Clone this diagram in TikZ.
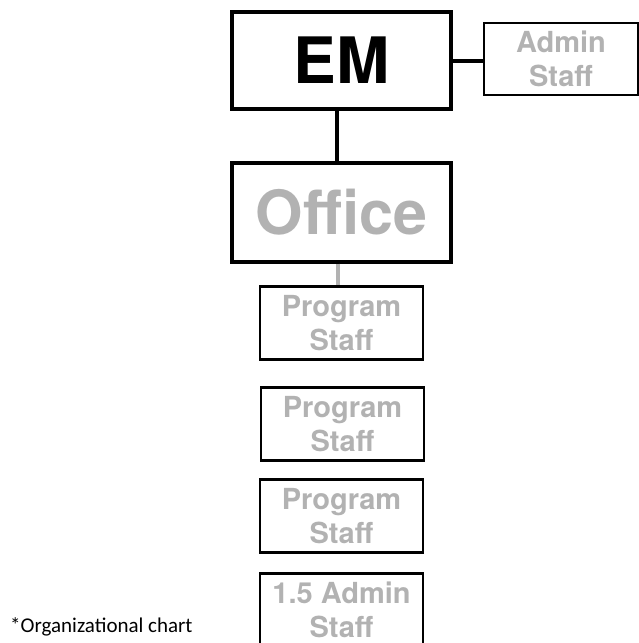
\documentclass[tikz,border=0pt]{standalone}
\usepackage{fontspec}
\setmainfont{TeX Gyre Heros}
\newfontfamily\notefont{Carlito}
\usepackage{xcolor}
\usetikzlibrary{positioning}
\definecolor{staffgray}{RGB}{178,178,178}

\begin{document}
\begin{tikzpicture}[x=1pt, y=-1pt,
    headbox/.style={draw, line width=3.2pt, inner sep=0pt, align=center, font=\bfseries},
    staffbox/.style={draw, line width=2.5pt, inner sep=0pt, align=center, text=staffgray,
                     font=\fontsize{29}{34}\selectfont\bfseries, minimum width=163pt, minimum height=73pt},
    link/.style={line width=4pt}]
            % page size
            \useasboundingbox (0,0) rectangle (639,643);
            \clip (0,0) rectangle (639,643);
            % top boxes
            \node[headbox, minimum width=219pt, minimum height=97pt,
                  font=\fontsize{64}{64}\selectfont\bfseries] (em) at (341.5,60.5) {EM};
            \node[staffbox, minimum width=154pt, minimum height=72pt] (admin) at (561,59) {Admin\\Staff};
            \node[headbox, minimum width=219pt, minimum height=99pt, text=staffgray,
                  font=\fontsize{61}{61}\selectfont\bfseries] (office) at (341.5,212.5) {Office};
            % staff boxes
            \node[staffbox] (prog1) at (341.5,323) {Program\\Staff};
            \node[staffbox] (prog2) at (342.5,424) {Program\\Staff};
            \node[staffbox] (prog3) at (341.5,516) {Program\\Staff};
            \node[staffbox] (admin2) at (341.5,610) {1.5 Admin\\Staff};
            % connectors
            \draw[link] (em.east) -- (admin.west |- em.east);
            \draw[link] (em.south -| 337,0) -- (office.north -| 337,0);
            \draw[link, staffgray] (office.south -| 338,0) -- (prog1.north -| 338,0);
            % note
            \node[anchor=base west, inner sep=0pt, font=\notefont\fontsize{21}{24}\selectfont] (note) at (10,632) {*Organizational chart};
          \end{tikzpicture}
\end{document}
